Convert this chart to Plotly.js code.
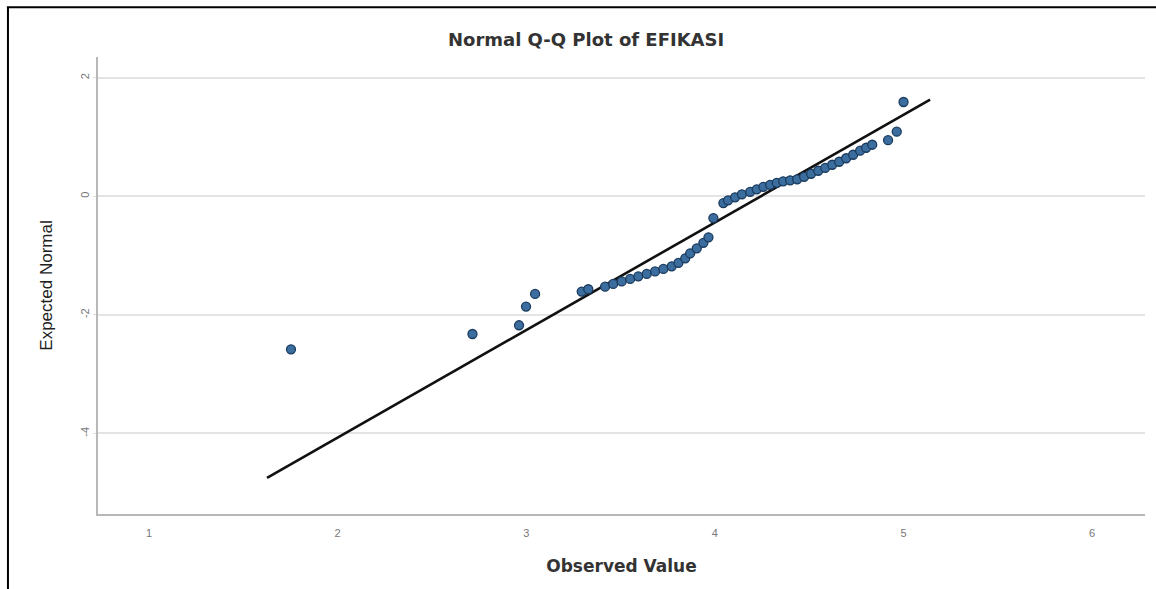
<!DOCTYPE html>
<html>
<head>
<meta charset="utf-8">
<script src="https://cdn.plot.ly/plotly-3.0.1.min.js"></script>
<style>
  html, body { margin: 0; padding: 0; background: #ffffff; }
  #chart { width: 1156px; height: 589px; }
</style>
</head>
<body>
<div id="chart"></div>
<script>
const observedValue = [
  1.753, 2.715, 2.962, 2.999, 3.047, 3.294, 3.329, 3.418, 3.461, 3.506,
  3.551, 3.594, 3.639, 3.683, 3.727, 3.771, 3.807, 3.843, 3.869, 3.904,
  3.939, 3.966, 3.992, 4.045, 4.070, 4.107, 4.143, 4.187, 4.222, 4.257,
  4.293, 4.328, 4.362, 4.399, 4.436, 4.473, 4.510, 4.548, 4.585, 4.622,
  4.659, 4.696, 4.733, 4.770, 4.802, 4.834, 4.918, 4.964, 5.000
];
const expectedNormal = [
  -2.581, -2.323, -2.176, -1.861, -1.647, -1.608, -1.568, -1.524, -1.478, -1.436,
  -1.394, -1.351, -1.309, -1.267, -1.225, -1.182, -1.123, -1.047, -0.963, -0.878,
  -0.785, -0.693, -0.368, -0.115, -0.068, -0.017, 0.034, 0.076, 0.118, 0.160,
  0.194, 0.228, 0.253, 0.270, 0.287, 0.329, 0.380, 0.431, 0.481, 0.532,
  0.583, 0.642, 0.701, 0.769, 0.819, 0.870, 0.946, 1.090, 1.591
];
// Reference line end points
const refLineX = [1.626, 5.141];
const refLineY = [-4.75, 1.63];

const xTickVals = [1, 2, 3, 4, 5, 6];
const yTickVals = [-4, -2, 0, 2];

const titleText = "Normal Q-Q Plot of EFIKASI";
const xTitleText = "Observed Value";
const yTitleText = "Expected Normal";

const traces = [
  {
    type: "scatter",
    mode: "lines",
    x: refLineX,
    y: refLineY,
    line: { color: "#111111", width: 2.6 },
    hoverinfo: "skip",
    showlegend: false
  },
  {
    type: "scatter",
    mode: "markers",
    x: observedValue,
    y: expectedNormal,
    marker: {
      size: 9,
      color: "#3b6e9f",
      line: { color: "#1b3b5e", width: 1.3 }
    },
    showlegend: false
  }
];

const layout = {
  width: 1156,
  height: 589,
  margin: { l: 98, r: 11, t: 57, b: 75 },
  paper_bgcolor: "#ffffff",
  plot_bgcolor: "#ffffff",
  font: { family: "Liberation Sans, Arial, sans-serif", color: "#333333" },
  title: {
    text: titleText,
    font: { family: "DejaVu Sans, sans-serif", size: 18, color: "#333333", weight: "bold" },
    x: 0.507,
    xref: "container",
    xanchor: "center",
    y: 0.932,
    yref: "container",
    yanchor: "middle"
  },
  xaxis: {
    range: [0.73, 6.28],
    tickvals: xTickVals,
    ticktext: xTickVals.map(String),
    showgrid: false,
    zeroline: false,
    showline: true,
    linecolor: "#b8b8b8",
    linewidth: 2,
    ticks: "outside",
    ticklen: 8,
    tickcolor: "rgba(0,0,0,0)",
    tickfont: { size: 11, color: "#777777" },
    title: {
      text: xTitleText,
      font: { family: "DejaVu Sans, sans-serif", size: 17, color: "#333333", weight: "bold" },
      standoff: 22
    },
    automargin: false
  },
  yaxis: {
    range: [-5.36, 2.35],
    tickvals: yTickVals,
    ticktext: yTickVals.map(String),
    tickangle: -90,
    showgrid: true,
    gridcolor: "#e4e4e4",
    gridwidth: 2,
    zeroline: false,
    showline: true,
    linecolor: "#b8b8b8",
    linewidth: 2,
    ticks: "outside",
    ticklen: 3,
    tickcolor: "#dddddd",
    tickfont: { size: 11, color: "#777777" },
    title: {
      text: yTitleText,
      font: { family: "Liberation Sans, Arial, sans-serif", size: 17, color: "#222222" },
      standoff: 22
    },
    automargin: false
  },
  shapes: [
    { type: "line", xref: "paper", yref: "paper", x0: -0.086, x1: -0.086, y0: 1.109, y1: -0.2,
      line: { color: "#000000", width: 2 } },
    { type: "line", xref: "paper", yref: "paper", x0: -0.087, x1: 1.05, y0: 1.109, y1: 1.109,
      line: { color: "#000000", width: 2 } }
  ]
};

Plotly.newPlot("chart", traces, layout, { displayModeBar: false, staticPlot: true });
</script>
</body>
</html>
